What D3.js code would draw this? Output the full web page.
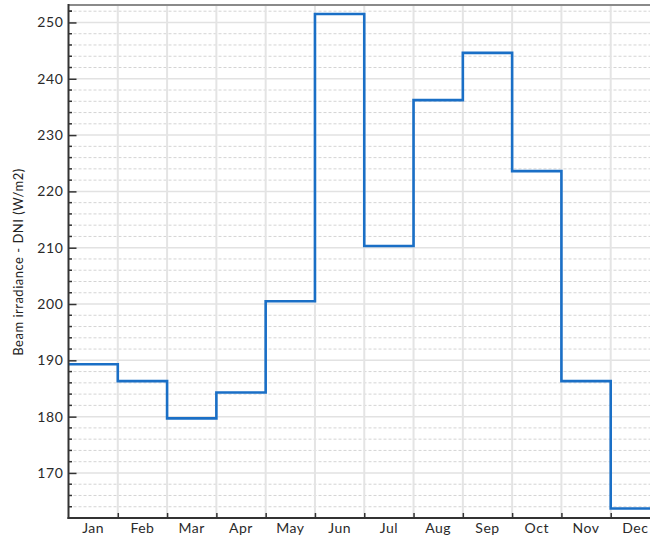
<!DOCTYPE html>
<html><head><meta charset="utf-8">
<script src="https://cdn.jsdelivr.net/npm/d3@7"></script>
<style>body{margin:0;background:#fff;} svg{display:block;}</style>
</head><body>
<svg id="c" width="650" height="536"></svg>
<script>
const months = ["Jan","Feb","Mar","Apr","May","Jun","Jul","Aug","Sep","Oct","Nov","Dec"];
const dni = [189.3, 186.3, 179.7, 184.3, 200.5, 251.5, 210.3, 236.2, 244.6, 223.6, 186.3, 163.7];
const yTicks = [170, 180, 190, 200, 210, 220, 230, 240, 250];
const yLabel = "Beam irradiance - DNI (W/m2)";

(function () {
const svg = d3.select("#c");
const mLeft = 68.5, mTop = 5, mBottom = 518, mRight = 660;
const x = d3.scaleLinear().domain([0, 12]).range([mLeft, mRight]);
const y = d3.scaleLinear().domain([162, 253.1]).range([mBottom, mTop]);

const minor = d3.range(164, 253, 2).filter(v => v % 10 !== 0);

// minor dotted grid
svg.append("g").selectAll("line").data(minor).join("line")
  .attr("x1", mLeft).attr("x2", 650).attr("y1", d => y(d)).attr("y2", d => y(d))
  .attr("stroke", "#d4d4d4").attr("stroke-width", 1).attr("stroke-dasharray", "3,2");
// major grid
svg.append("g").selectAll("line").data(yTicks).join("line")
  .attr("x1", mLeft).attr("x2", 650).attr("y1", d => y(d)).attr("y2", d => y(d))
  .attr("stroke", "#e2e2e2").attr("stroke-width", 1.5);
// vertical grid
svg.append("g").selectAll("line").data(d3.range(1, 12)).join("line")
  .attr("x1", d => x(d)).attr("x2", d => x(d)).attr("y1", mTop).attr("y2", mBottom)
  .attr("stroke", "#e4e4e4").attr("stroke-width", 2);

// top border
svg.append("line").attr("x1", mLeft).attr("x2", 650).attr("y1", mTop).attr("y2", mTop)
  .attr("stroke", "#8a8a8a").attr("stroke-width", 2);

// step line
const pts = dni.map((v, i) => [i, v]).concat([[12, dni[11]]]);
svg.append("path").datum(pts)
  .attr("d", d3.line().x(d => x(d[0])).y(d => y(d[1])).curve(d3.curveStepAfter))
  .attr("fill", "none").attr("stroke", "#1a6fc6").attr("stroke-width", 2.6);

// y axis
const ya = svg.append("g").attr("transform", `translate(${mLeft},0)`)
  .call(d3.axisRight(y).tickValues(yTicks).tickSize(8).tickFormat(""));
ya.select(".domain").remove();
ya.selectAll(".tick line").attr("stroke", "#333").attr("stroke-width", 1.5);
svg.append("g").attr("transform", `translate(${mLeft},0)`)
  .selectAll("line").data(minor.concat([252])).join("line")
  .attr("x1", 0).attr("x2", 3.5).attr("y1", d => y(d)).attr("y2", d => y(d))
  .attr("stroke", "#333").attr("stroke-width", 1.5);
svg.append("g").selectAll("text").data(yTicks).join("text")
  .attr("x", mLeft - 5).attr("y", d => y(d)).attr("dy", "0.36em")
  .attr("text-anchor", "end").attr("font-family", "Lato, sans-serif")
  .attr("font-size", 14).attr("letter-spacing", "0.6px").attr("fill", "#2a2a2a").text(d => d);
svg.append("line").attr("x1", mLeft).attr("x2", mLeft).attr("y1", mTop - 1).attr("y2", mBottom + 1)
  .attr("stroke", "#333").attr("stroke-width", 2);

// x axis
const xa = svg.append("g").attr("transform", `translate(0,${mBottom})`)
  .call(d3.axisTop(x).tickValues(d3.range(1, 12)).tickSize(5).tickFormat(""));
xa.select(".domain").remove();
xa.selectAll(".tick line").attr("stroke", "#333").attr("stroke-width", 1.5);
svg.append("line").attr("x1", mLeft - 1).attr("x2", 650).attr("y1", mBottom).attr("y2", mBottom)
  .attr("stroke", "#333").attr("stroke-width", 2);
svg.append("g").selectAll("text").data(months).join("text")
  .attr("x", (d, i) => x(i + 0.5)).attr("y", 532.5)
  .attr("text-anchor", "middle").attr("font-family", "Lato, sans-serif")
  .attr("font-size", 14).attr("letter-spacing", "0.5px").attr("fill", "#2a2a2a").text(d => d);

// y label
svg.append("text").attr("transform", "translate(23,262) rotate(-90)")
  .attr("text-anchor", "middle").attr("font-family", "Lato, sans-serif")
  .attr("font-size", 13).attr("letter-spacing", "0.5px").attr("fill", "#222").text(yLabel);
})();
</script>
</body></html>
